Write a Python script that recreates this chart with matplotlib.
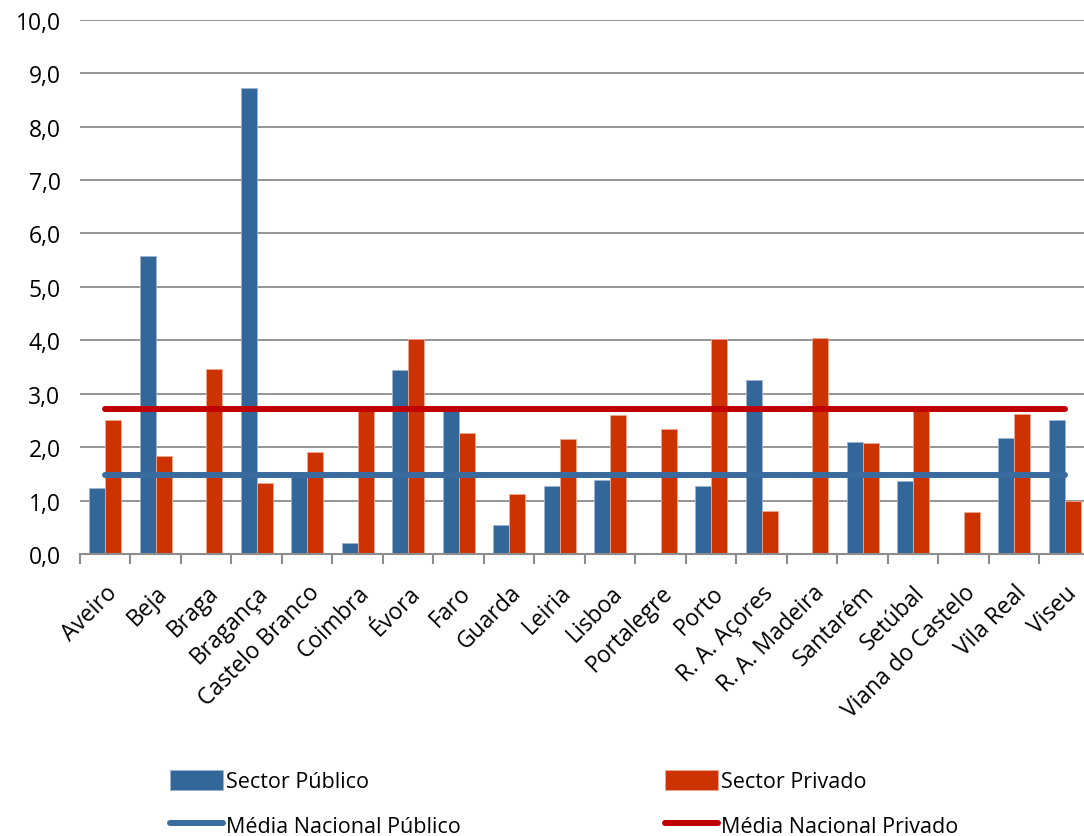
import matplotlib
matplotlib.use("Agg")
import matplotlib.pyplot as plt
import numpy as np
from matplotlib.ticker import FuncFormatter, FixedLocator

plt.rcParams['font.family'] = ['Open Sans', 'DejaVu Sans']

# distritos / regiões
distritos = ["Aveiro", "Beja", "Braga", "Bragança", "Castelo Branco", "Coimbra",
             "Évora", "Faro", "Guarda", "Leiria", "Lisboa", "Portalegre", "Porto",
             "R. A. Açores", "R. A. Madeira", "Santarém", "Setúbal",
             "Viana do Castelo", "Vila Real", "Viseu"]

sector_publico = [1.24, 5.57, 0.0, 8.73, 1.45, 0.20, 3.45, 2.76, 0.55, 1.28,
                  1.38, 0.0, 1.27, 3.26, 0.0, 2.09, 1.37, 0.0, 2.18, 2.51]
sector_privado = [2.50, 1.84, 3.47, 1.33, 1.90, 2.75, 4.02, 2.26, 1.12, 2.15,
                  2.60, 2.34, 4.02, 0.80, 4.04, 2.08, 2.77, 0.78, 2.62, 0.99]

media_publico = 1.48
media_privado = 2.71

AZUL = '#336699'
VERMELHO = '#CC3300'
LINHA_AZUL = '#3A6B9E'
LINHA_VERMELHA = '#C00000'
GRELHA = '#8C8C8C'

fig = plt.figure(figsize=(10.84, 8.37), dpi=100, facecolor='white')
ax = fig.add_axes([0.0738, 0.3369, 0.9317, 0.6384])

x = np.arange(len(distritos))
w = 0.32
b_pub = ax.bar(x - w / 2, sector_publico, width=w, color=AZUL, edgecolor='#9DB5D0',
               linewidth=0.6, label='Sector Público', zorder=2)
b_priv = ax.bar(x + w / 2, sector_privado, width=w, color=VERMELHO, edgecolor='#F0A890',
                linewidth=0.6, label='Sector Privado', zorder=2)

l_pub, = ax.plot([x[0], x[-1]], [media_publico] * 2, color=LINHA_AZUL, lw=4.3,
                 solid_capstyle='round', label='Média Nacional Público', zorder=3)
l_priv, = ax.plot([x[0], x[-1]], [media_privado] * 2, color=LINHA_VERMELHA, lw=4.3,
                  solid_capstyle='round', label='Média Nacional Privado', zorder=3)

ax.set_xlim(-0.5, len(distritos) - 0.5)
ax.set_ylim(0, 10)
ax.set_yticks(np.arange(0, 10.01, 1))
ax.yaxis.set_major_formatter(FuncFormatter(lambda v, p: f"{v:.1f}".replace('.', ',')))
ax.yaxis.grid(True, color=GRELHA, lw=1.3, zorder=0)
ax.set_axisbelow(True)
ax.tick_params(axis='y', length=0, pad=14, labelsize=16.5)

ax.set_xticks(x)
ax.set_xticklabels(distritos, rotation=45, ha='right', va='top',
                   rotation_mode='anchor', fontsize=16.5)
ax.tick_params(axis='x', which='major', length=0, pad=19)
ax.xaxis.set_minor_locator(FixedLocator(np.arange(-0.5, len(distritos), 1)))
ax.tick_params(axis='x', which='minor', length=7, width=1.5, color=GRELHA)

for s in ['top', 'right', 'left']:
    ax.spines[s].set_visible(False)
ax.spines['bottom'].set_color(GRELHA)
ax.spines['bottom'].set_linewidth(1.5)

# legenda: barras na primeira linha, médias na segunda
handles = [b_pub, l_pub, b_priv, l_priv]
fig.legend(handles, [h.get_label() for h in handles],
           loc='lower left', bbox_to_anchor=(0.139, -0.024), ncol=2,
           frameon=False, fontsize=15.5, handlelength=2.45, handleheight=1.0,
           handletextpad=0.15, columnspacing=9.5, labelspacing=1.04)

fig.savefig('out.png', dpi=100, facecolor='white')
